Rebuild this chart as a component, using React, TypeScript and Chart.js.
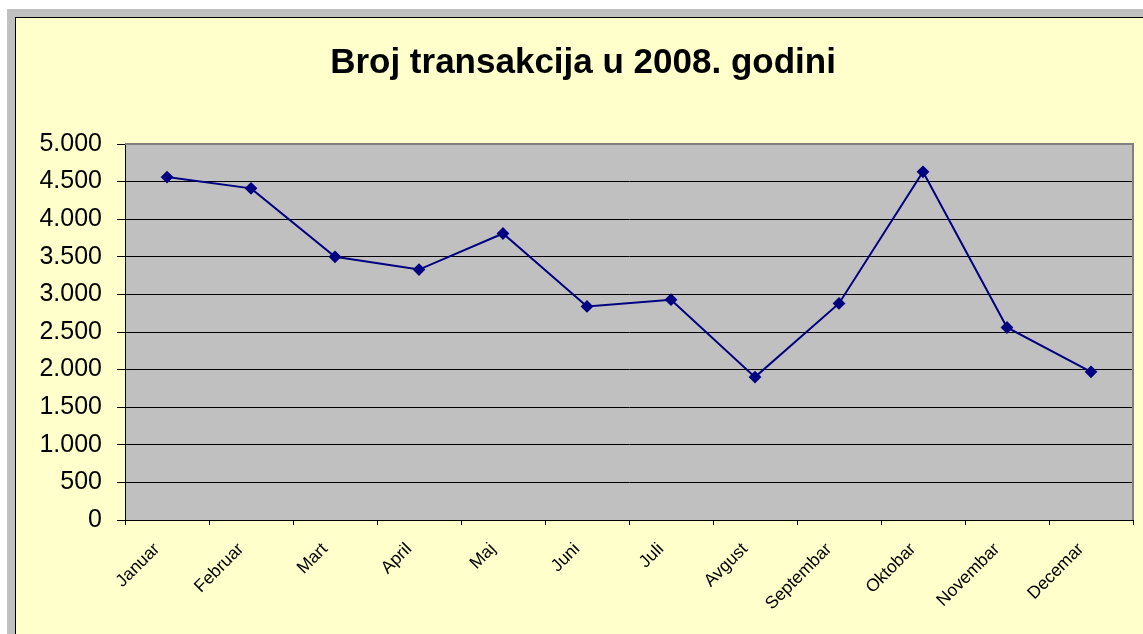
import React, { useEffect, useRef } from "react";
import { Chart, registerables } from "chart.js";

Chart.register(...registerables);

const months = [
  "Januar", "Februar", "Mart", "April", "Maj", "Juni",
  "Juli", "Avgust", "Septembar", "Oktobar", "Novembar", "Decemar",
];
const transakcije = [4560, 4410, 3500, 3330, 3810, 2840, 2930, 1900, 2880, 4630, 2560, 1970];
const yMin = 0;
const yMax = 5000;
const yStep = 500;
const chartTitle = "Broj transakcija u 2008. godini";

const FONT = 'Arial, "Liberation Sans", sans-serif';

function formatThousands(v: number): string {
  return String(v).replace(/\B(?=(\d{3})+(?!\d))/g, ".");
}

const plotBg = {
  id: "plotBg",
  beforeDraw(chart: any) {
    const { ctx, chartArea } = chart;
    if (!chartArea) return;
    ctx.save();
    ctx.fillStyle = "#C0C0C0";
    ctx.fillRect(chartArea.left, chartArea.top, chartArea.right - chartArea.left, chartArea.bottom - chartArea.top);
    ctx.restore();
  },
  beforeDatasetsDraw(chart: any) {
    const { ctx, chartArea } = chart;
    ctx.save();
    ctx.strokeStyle = "#808080";
    ctx.lineWidth = 2;
    ctx.beginPath();
    ctx.moveTo(chartArea.left, chartArea.top);
    ctx.lineTo(chartArea.right, chartArea.top);
    ctx.lineTo(chartArea.right, chartArea.bottom);
    ctx.stroke();
    ctx.restore();
  },
};

export default function App() {
  const ref = useRef<HTMLCanvasElement | null>(null);
  useEffect(() => {
    if (!ref.current) return;
    const chart = new Chart(ref.current, {
      type: "line",
      data: {
        labels: months,
        datasets: [
          {
            data: transakcije,
            borderColor: "#000080",
            backgroundColor: "#000080",
            borderWidth: 2,
            pointStyle: "rectRot",
            pointRadius: 5,
            pointBackgroundColor: "#000080",
            pointBorderColor: "#000080",
            tension: 0,
          },
        ],
      },
      options: {
        responsive: false,
        animation: false,
        layout: { padding: { left: 17, right: 10, top: 0, bottom: 0 } },
        plugins: {
          legend: { display: false },
          tooltip: { enabled: false },
          title: {
            display: true,
            text: chartTitle,
            color: "#000",
            font: { family: FONT, size: 35, weight: "bold", lineHeight: 1.2 },
            padding: { top: 24, bottom: 60 },
          },
        },
        scales: {
          x: {
            offset: true,
            grid: {
              offset: true,
              drawOnChartArea: false,
              drawTicks: true,
              tickLength: 5,
              color: "#000",
            },
            border: { display: true, color: "#000", width: 1 },
            ticks: {
              color: "#000",
              font: { family: FONT, size: 17.5 },
              minRotation: 45,
              maxRotation: 45,
              padding: 14,
              labelOffset: -10,
              autoSkip: false,
            },
            afterFit(scale: any) {
              scale.height = 114;
            },
          },
          y: {
            min: yMin,
            max: yMax,
            grid: { color: "#000", lineWidth: 1, tickLength: 8, drawTicks: true },
            border: { display: true, color: "#000", width: 1 },
            ticks: {
              stepSize: yStep,
              color: "#000",
              font: { family: FONT, size: 25 },
              padding: 15,
              callback: (v: any) => formatThousands(Number(v)),
            },
            afterFit(scale: any) {
              scale.width = 92;
            },
          },
        },
      },
      plugins: [plotBg],
    });
    return () => chart.destroy();
  }, []);

  return (
    <div style={{ position: "fixed", left: 0, top: 0, width: 1143, height: 634, background: "#fff", overflow: "hidden" }}>
      <div style={{ position: "absolute", left: 7, top: 9, width: 1136, height: 625, background: "#C0C0C0" }} />
      <div
        style={{
          position: "absolute",
          left: 15,
          top: 17,
          width: 1128,
          height: 617,
          borderLeft: "1px solid #000",
          borderTop: "1px solid #000",
          background: "#FFFFCC",
        }}
      >
        <canvas ref={ref} width={1127} height={616} style={{ display: "block", width: 1127, height: 616 }} />
      </div>
    </div>
  );
}
